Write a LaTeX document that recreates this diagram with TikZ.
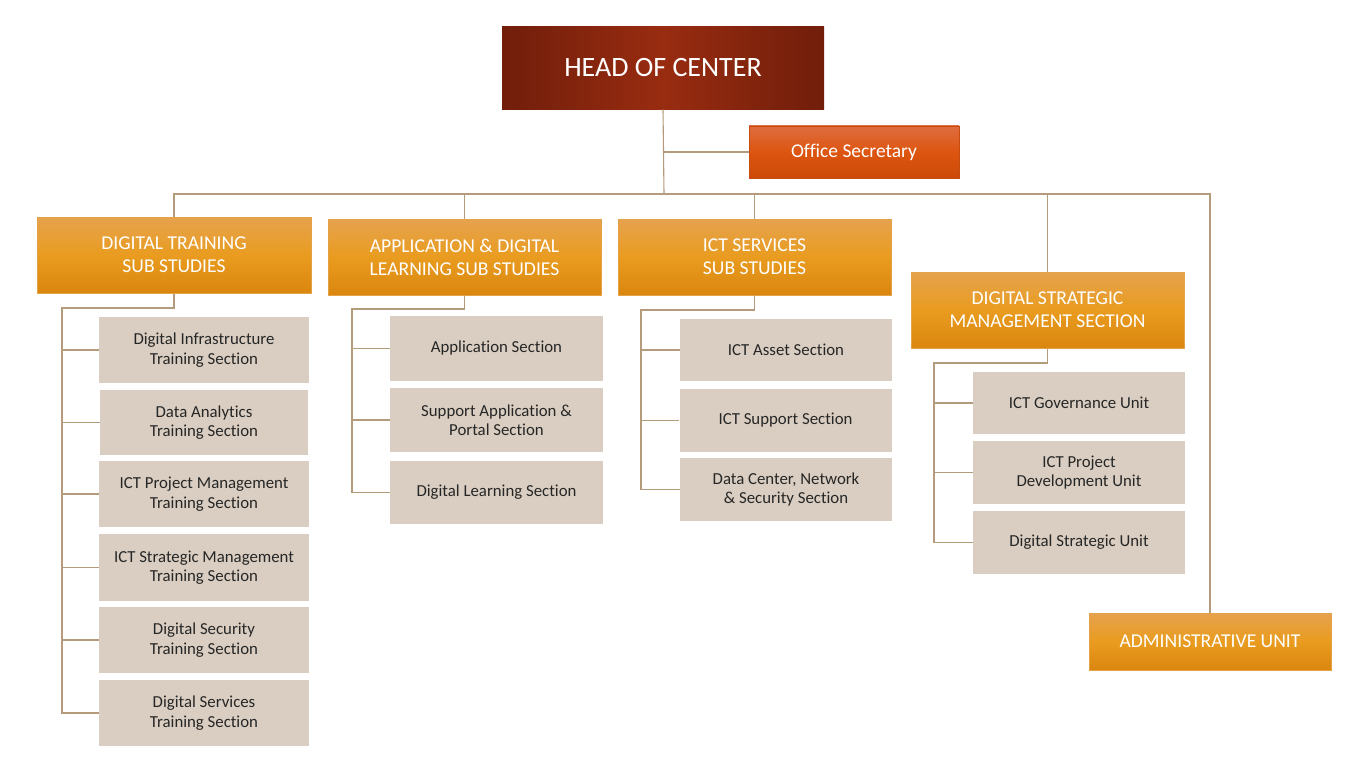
\documentclass[tikz,border=0pt]{standalone}
\usepackage{fontspec}
\setmainfont{Carlito}[Ligatures={NoCommon}]
\definecolor{conn}{HTML}{B39B7B}
\definecolor{beige}{HTML}{D9CEC1}
\definecolor{ctext}{HTML}{262626}
\definecolor{orT}{HTML}{E6A24E}
\definecolor{orM}{HTML}{E99C1F}
\definecolor{orB}{HTML}{DA860F}
\definecolor{orD}{HTML}{E3A148}
\definecolor{hdE}{HTML}{711E0B}
\definecolor{hdM}{HTML}{982C10}
\definecolor{osT}{HTML}{DF6D40}
\definecolor{osM}{HTML}{DD5510}
\definecolor{osB}{HTML}{CB4A08}
\tikzset{
  connline/.style={draw=conn, line width=1.1pt},
  headbox/.style={inner sep=0pt, align=center, text=white, left color=hdE, right color=hdE, middle color=hdM,
    font=\fontsize{28}{33}\selectfont},
  secbox/.style={inner sep=0pt, align=center, text=white, top color=osT, bottom color=osB, middle color=osM,
    draw=osM!90!black, line width=0.8pt, font=\fontsize{19.5}{23}\selectfont},
  lvlbox/.style={inner sep=0pt, align=center, text=white, top color=orT, bottom color=orB, middle color=orM,
    draw=orD, line width=1pt, font=\fontsize{19.6}{23}\selectfont},
  subbox/.style={inner sep=0pt, align=center, text=ctext, fill=beige,
    font=\fontsize{16.8}{19.5}\selectfont},
}
\begin{document}
\begin{tikzpicture}[x=1pt,y=-1pt]
\useasboundingbox (0,0) rectangle (1359,762);
% top level
\node[headbox, minimum width=322pt, minimum height=83pt] (head) at (663,68) {HEAD OF CENTER};
\node[secbox, minimum width=210pt, minimum height=52pt] (sec) at (854,152) {Office Secretary};
% level 2
\node[lvlbox, minimum width=274pt, minimum height=76pt] (dt) at (174,255) {DIGITAL TRAINING\\SUB STUDIES};
\node[lvlbox, minimum width=273pt, minimum height=76pt] (app) at (464.5,257) {APPLICATION \& DIGITAL\\LEARNING SUB STUDIES};
\node[lvlbox, minimum width=273pt, minimum height=76pt] (ict) at (754.5,257) {ICT SERVICES\\SUB STUDIES};
\node[lvlbox, minimum width=273pt, minimum height=76pt] (dsm) at (1047.5,310) {DIGITAL STRATEGIC\\MANAGEMENT SECTION};
\node[lvlbox, minimum width=242pt, minimum height=57pt] (adm) at (1210,641.5) {ADMINISTRATIVE UNIT};
% digital training children
\node[subbox, minimum width=210pt, minimum height=66pt] (dt1) at (204,350) {Digital Infrastructure\\Training Section};
\node[subbox, minimum width=208pt, minimum height=65pt] (dt2) at (204,422.5) {Data Analytics\\Training Section};
\node[subbox, minimum width=210pt, minimum height=66pt] (dt3) at (204,494) {ICT Project Management\\Training Section};
\node[subbox, minimum width=210pt, minimum height=67pt] (dt4) at (204,567.5) {ICT Strategic Management\\Training Section};
\node[subbox, minimum width=210pt, minimum height=66pt] (dt5) at (204,640) {Digital Security\\Training Section};
\node[subbox, minimum width=210pt, minimum height=66pt] (dt6) at (204,713) {Digital Services\\Training Section};
% application children
\node[subbox, minimum width=213pt, minimum height=65pt] (ap1) at (496.5,348.5) {Application Section};
\node[subbox, minimum width=213pt, minimum height=64pt] (ap2) at (496.5,420) {Support Application \&\\Portal Section};
\node[subbox, minimum width=213pt, minimum height=63pt] (ap3) at (496.5,492.5) {Digital Learning Section};
% ict children
\node[subbox, minimum width=212pt, minimum height=62pt] (ic1) at (786,350) {ICT Asset Section};
\node[subbox, minimum width=212pt, minimum height=63pt] (ic2) at (785.5,420.5) {ICT Support Section};
\node[subbox, minimum width=212pt, minimum height=63pt] (ic3) at (786,489.5) {Data Center, Network\\\& Security Section};
% dsm children
\node[subbox, minimum width=212pt, minimum height=62pt] (ds1) at (1079,403) {ICT Governance Unit};
\node[subbox, minimum width=212pt, minimum height=63pt] (ds2) at (1079,472.5) {ICT Project\\Development Unit};
\node[subbox, minimum width=212pt, minimum height=63pt] (ds3) at (1079,542.5) {Digital Strategic Unit};
% junction coordinates
\coordinate (bus) at (664,194);
\coordinate (dtj) at (62,308);
\coordinate (apj) at (352,309);
\coordinate (icj) at (641,310);
\coordinate (dsj) at (934,363);
% connectors: top
\draw[connline] (head.south) -- (bus);
\draw[connline] (sec.west) -- (sec.west -| head.south);
\draw[connline] (dt.north) |- (bus);
\draw[connline] (app.north) |- (bus);
\draw[connline] (ict.north) |- (bus);
\draw[connline] (dsm.north) |- (bus);
\draw[connline] (adm.north) |- (bus);
% digital training
\draw[connline] (dt.south) |- (dtj) |- (dt6.west);
\foreach \n in {dt1,dt2,dt3,dt4,dt5} \draw[connline] (\n.west) -- (\n.west -| dtj);
% application
\draw[connline] (app.south) |- (apj) |- (ap3.west);
\foreach \n in {ap1,ap2} \draw[connline] (\n.west) -- (\n.west -| apj);
% ict
\draw[connline] (ict.south) |- (icj) |- (ic3.west);
\foreach \n in {ic1,ic2} \draw[connline] (\n.west) -- (\n.west -| icj);
% dsm
\draw[connline] (dsm.south) |- (dsj) |- (ds3.west);
\foreach \n in {ds1,ds2} \draw[connline] (\n.west) -- (\n.west -| dsj);
\end{tikzpicture}
\end{document}
